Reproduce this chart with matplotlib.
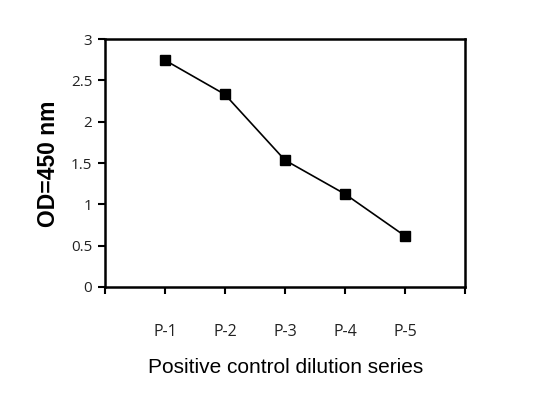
import numpy as np
import matplotlib
matplotlib.use("Agg")
from matplotlib import pyplot as plt

# data
samples = ["P-1", "P-2", "P-3", "P-4", "P-5"]
od450 = [2.745, 2.33, 1.535, 1.125, 0.617]

fig = plt.figure(figsize=(5.49, 4.03), dpi=100)
ax = fig.add_axes([0.191, 0.288, 0.656, 0.615])

x = np.arange(1, len(samples) + 1)
ax.plot(x, od450, color="black", lw=1.2, marker="s", ms=6.5,
        markerfacecolor="black", markeredgecolor="black")

ax.set_xlim(0, len(samples) + 1)
ax.set_ylim(0, 3)
ax.set_xticks(np.arange(0, len(samples) + 2))
ax.set_xticklabels([""] + samples + [""], fontsize=11.5, family="Open Sans",
                   color="#222222")
ax.set_yticks([0, 0.5, 1, 1.5, 2, 2.5, 3])
ax.set_yticklabels(["0", "0.5", "1", "1.5", "2", "2.5", "3"], fontsize=11,
                   family="Open Sans", color="#222222")
ax.tick_params(axis="x", direction="out", length=5, width=1.5, pad=22)
ax.tick_params(axis="y", direction="out", length=5, width=1.5, pad=4)
for s in ax.spines.values():
    s.set_linewidth(1.8)

fig.text(0.089, 0.593, "OD=450 nm", fontsize=16.5, fontweight="bold",
         family="Liberation Sans", rotation=90, ha="center", va="center")
fig.text(0.521, 0.087, "Positive control dilution series", fontsize=15,
         family="Liberation Sans", ha="center", va="center")

fig.savefig("out.png", dpi=100)
